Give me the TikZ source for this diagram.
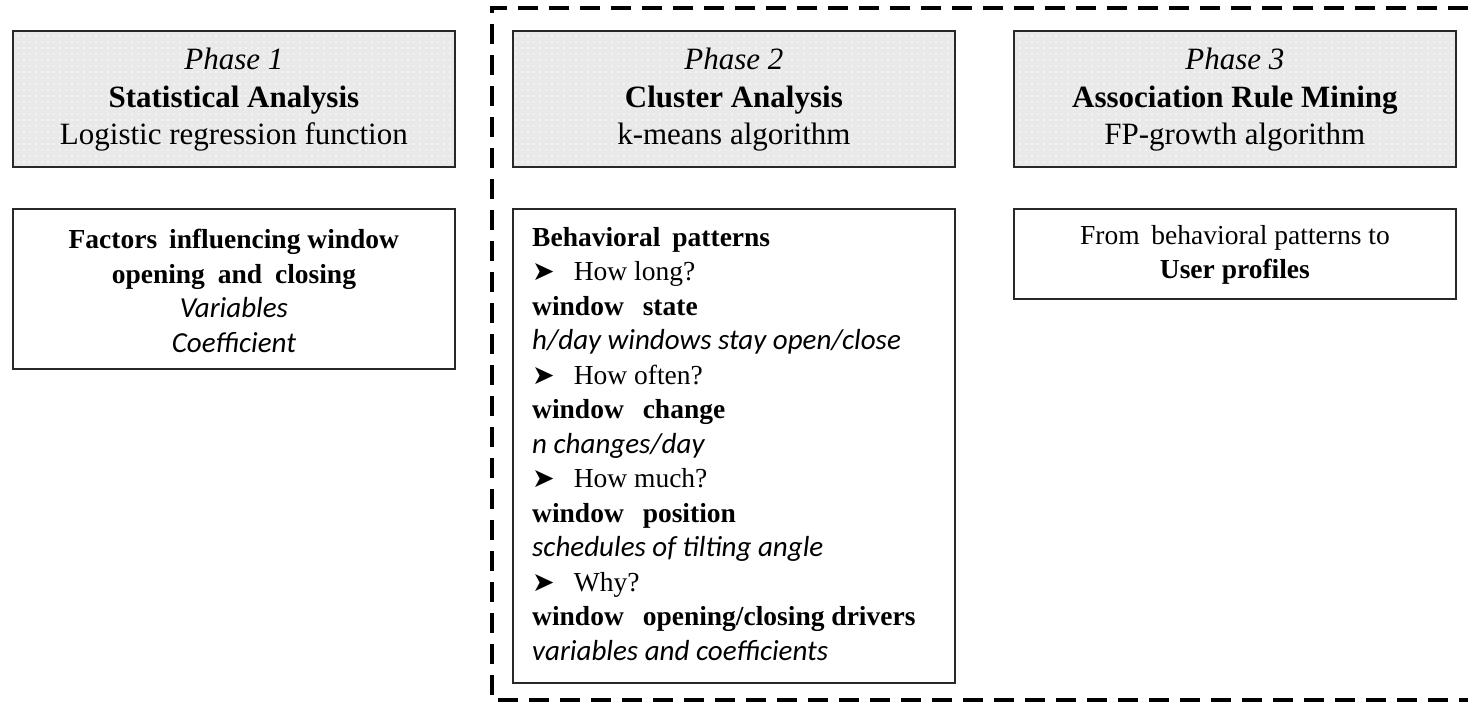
\documentclass[tikz,border=0pt]{standalone}
\usepackage{fontspec}
\usetikzlibrary{patterns.meta}
\setmainfont{Liberation Serif}
\newfontfamily\calfont{Carlito}
\newfontfamily\symfont{DejaVu Sans}
\definecolor{headfill}{RGB}{233,233,233}
\definecolor{edge}{RGB}{40,40,40}
\newcommand{\bul}{{\symfont\fontsize{27}{27}\selectfont ➤}\hspace{19pt}}
\newcommand{\note}[1]{{\calfont\itshape\fontsize{29}{34.5}\selectfont #1}}
\tikzdeclarepattern{
  name=softdots,
  type=uncolored,
  bounding box={(-3pt,-3pt) and (3pt,3pt)},
  tile size={(6pt,6pt)},
  code={\fill (0pt,0pt) circle (0.9pt);}
}
\tikzset{
  headbox/.style={preaction={fill=headfill}, pattern=softdots, pattern color=white,
    draw=edge, line width=1.8pt, anchor=north west,
    minimum width=442pt, minimum height=136pt, inner sep=0pt},
  infobox/.style={draw=edge, line width=1.8pt, fill=white, anchor=north west,
    minimum width=442pt, inner sep=0pt},
  headtext/.style={align=center, font=\fontsize{31}{37.5}\selectfont},
  bodytext/.style={font=\fontsize{27.5}{34.5}\selectfont},
  frame/.style={line width=3.5pt, dash pattern=on 20pt off 11pt}
}
\begin{document}
\begin{tikzpicture}[x=1pt,y=-1pt]
\useasboundingbox (0,0) rectangle (1468,702);

% dashed frame around phases 2 and 3
\coordinate (ftr) at (1468,8);
\coordinate (ftl) at (492,8);
\coordinate (fbl) at (492,700);
\coordinate (fbr) at (1468,700);
\draw[frame] (ftr) -- (ftl) -- (fbl) -- (fbr);

% phase headers
\node[headbox] (h1) at (12,30) {};
\node[headbox] (h2) at (512,30) {};
\node[headbox] (h3) at (1013,30) {};
\node[headtext] (t1) at ([yshift=-1pt]h1.center) {\textit{Phase 1}\\\textbf{Statistical Analysis}\\Logistic regression function};
\node[headtext] (t2) at ([yshift=-1pt]h2.center) {\textit{Phase 2}\\\textbf{Cluster Analysis}\\k-means algorithm};
\node[headtext] (t3) at ([yshift=-1pt]h3.center) {\textit{Phase 3}\\\textbf{Association Rule Mining}\\FP-growth algorithm};

% result boxes
\node[infobox, minimum height=160pt] (b1) at (12,208) {};
\node[infobox, minimum height=474pt] (b2) at (512,208) {};
\node[infobox, minimum height=90pt] (b3) at (1013,208) {};

\node[bodytext, align=center] (c1) at ([yshift=-2pt]b1.center)
  {\textbf{Factors\hspace{5pt} influencing window}\\
   \textbf{opening\hspace{6pt} and\hspace{6pt} closing}\\
   \note{Variables}\\
   \note{Coefficient}};

\node[bodytext, align=left, anchor=north west, inner sep=0pt] (c2) at (532,227)
  {\textbf{Behavioral\hspace{5pt} patterns}\\
   \bul How long?\\
   \textbf{window\hspace{12pt} state}\\
   \note{h/day windows stay open/close}\\
   \bul How often?\\
   \textbf{window\hspace{12pt} change}\\
   \note{n changes/day}\\
   \bul How much?\\
   \textbf{window\hspace{12pt} position}\\
   \note{schedules of tilting angle}\\
   \bul Why?\\
   \textbf{window\hspace{12pt} opening/closing drivers}\\
   \note{variables and coefficients}};

\node[bodytext, align=center] (c3) at ([yshift=-1pt]b3.center)
  {From\hspace{5pt} behavioral patterns to\\\textbf{User profiles}};
\end{tikzpicture}
\end{document}
